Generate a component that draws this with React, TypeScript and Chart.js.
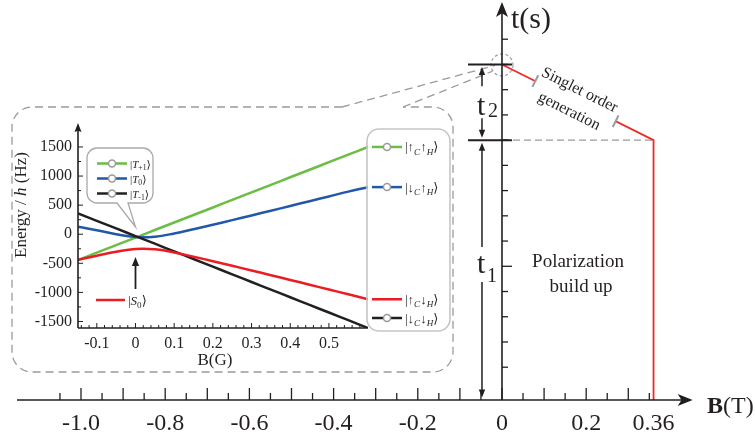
import React, { useEffect, useRef } from "react";
import { Chart, registerables } from "chart.js";
Chart.register(...registerables);

const SERIF = '"Liberation Serif", "Times New Roman", "DejaVu Serif", serif';
const INK = "#231f20";
const GRAY = "#9b9b9b";

// ---------- main chart: field-cycling sequence ----------
const cycleField = [0, 0.36, 0.36]; // B (T)
const cycleTime = [13.3, 10.3, 0]; // t (tick units)
const t1Level = 10.3;
const t2Level = 13.3;
const timeTicks = [1.3, 2.3, 3.3, 4.3, 5.3, 6.3, 7.3, 8.3, 9.3, 10.3, 11.3, 12.3, 13.3, 14.3];
const fieldMajorTicks = [-1.0, -0.9, -0.8, -0.7, -0.6, -0.5, -0.4, -0.3, -0.2, -0.1, 0, 0.1, 0.2, 0.3];
const fieldMinorTicks = [-1.05, -0.95, -0.85, -0.75, -0.65, -0.55, -0.45, -0.35, -0.25, -0.15, -0.05, 0.05, 0.15, 0.25, 0.35];
const fieldLabelValues = [-1.0, -0.8, -0.6, -0.4, -0.2, 0, 0.2, 0.36];
const fieldLabelTexts = ["-1.0", "-0.8", "-0.6", "-0.4", "-0.2", "0", "0.2", "0.36"];

// ---------- inset: energy levels vs B (G) ----------
const insetB = [-0.1486, -0.1, -0.05, 0, 0.05, 0.1, 0.15, 0.2, 0.25, 0.3, 0.35, 0.4, 0.45, 0.5, 0.55, 0.601];
const energyTplus = [-443, -317, -188, -58, 72, 201, 331, 460, 590, 720, 849, 979, 1108, 1238, 1368, 1500];
const energyT0 = [128, 70, 0, -48, -42, 13, 86, 163, 242, 323, 404, 486, 568, 650, 732, 810];
const energyTminus = [359, 231, 100, -32, -163, -295, -426, -558, -689, -821, -952, -1084, -1215, -1346, -1477, -1612];
const energyS0 = [-440, -370, -300, -252, -258, -313, -386, -463, -542, -623, -704, -786, -868, -950, -1032, -1118];
const insetYMajor = [-1500, -1000, -500, 0, 500, 1000, 1500];
const insetYMinor = [-1250, -750, -250, 250, 750, 1250];
const insetXMajor = [-0.1, 0, 0.1, 0.2, 0.3, 0.4, 0.5];
const insetXLabels = ["-0.1", "0", "0.1", "0.2", "0.3", "0.4", "0.5"];
const insetXMinor = [-0.14, -0.12, -0.08, -0.06, -0.04, -0.02, 0.02, 0.04, 0.06, 0.08, 0.12, 0.14, 0.16, 0.18, 0.22, 0.24, 0.26, 0.28, 0.32, 0.34, 0.36, 0.38, 0.42, 0.44, 0.46, 0.48, 0.52, 0.54, 0.56, 0.58];

const GREEN = "#6abd45";
const BLUE = "#2158a8";
const RED = "#ec1c24";
const BLACK = "#231f20";

const tripletNames = ["+1", "0", "-1"];
const tripletColors = [GREEN, BLUE, BLACK];
const spinC = ["↑", "↓", "↑", "↓"];
const spinH = ["↑", "↑", "↓", "↓"];

type Run = { t: string; it?: boolean; bold?: boolean; sub?: boolean };

function setRunFont(ctx: CanvasRenderingContext2D, r: Run, size: number) {
  const s = r.sub ? size * 0.7 : size;
  ctx.font = `${r.it ? "italic " : ""}${r.bold ? "bold " : ""}${s}px ${SERIF}`;
}
function runsWidth(ctx: CanvasRenderingContext2D, runs: Run[], size: number) {
  let w = 0;
  for (const r of runs) {
    setRunFont(ctx, r, size);
    w += ctx.measureText(r.t).width;
  }
  return w;
}
function drawRuns(ctx: CanvasRenderingContext2D, runs: Run[], x: number, y: number, size: number, align = "left") {
  let cx = align === "center" ? x - runsWidth(ctx, runs, size) / 2 : x;
  ctx.textAlign = "left";
  ctx.textBaseline = "alphabetic";
  for (const r of runs) {
    setRunFont(ctx, r, size);
    ctx.fillText(r.t, cx, y + (r.sub ? size * 0.25 : 0));
    cx += ctx.measureText(r.t).width;
  }
}
function seg(ctx: CanvasRenderingContext2D, x1: number, y1: number, x2: number, y2: number) {
  ctx.beginPath();
  ctx.moveTo(x1, y1);
  ctx.lineTo(x2, y2);
  ctx.stroke();
}
function arrowHead(ctx: CanvasRenderingContext2D, x: number, y: number, ang: number, len: number, half: number, notch = 0.25) {
  ctx.save();
  ctx.translate(x, y);
  ctx.rotate(ang);
  ctx.beginPath();
  ctx.moveTo(0, 0);
  ctx.lineTo(-len, -half);
  ctx.lineTo(-len * (1 - notch), 0);
  ctx.lineTo(-len, half);
  ctx.closePath();
  ctx.fill();
  ctx.restore();
}

const mainDecor = {
  id: "mainDecor",
  afterDatasetsDraw(chart: any) {
    const ctx: CanvasRenderingContext2D = chart.ctx;
    const xs = chart.scales.x;
    const ys = chart.scales.y;
    const X = (v: number) => xs.getPixelForValue(v);
    const Y = (v: number) => ys.getPixelForValue(v);
    const x0 = X(0);
    const y0 = Y(0);
    ctx.save();

    // ----- singlet order generation label along red line -----
    const ax = X(cycleField[0]), ay = Y(cycleTime[0]);
    const bx = X(cycleField[1]), by = Y(cycleTime[1]);
    const ang = Math.atan2(by - ay, bx - ax);
    const L = Math.hypot(bx - ax, by - ay);
    ctx.save();
    ctx.translate(ax, ay);
    ctx.rotate(ang);
    ctx.fillStyle = "#fff";
    ctx.fillRect(L * 0.22, -3, L * (0.75 - 0.22), 6);
    ctx.strokeStyle = GRAY;
    ctx.lineWidth = 2;
    for (const f of [0.22, 0.75]) seg(ctx, L * f, -6.5, L * f, 6.5);
    ctx.fillStyle = INK;
    ctx.font = `16px ${SERIF}`;
    ctx.textAlign = "center";
    ctx.textBaseline = "middle";
    ctx.fillText("Singlet order", L * 0.478, -11.5);
    ctx.fillText("generation", L * 0.478, 12);
    ctx.restore();

    // ----- dashed inset frame and zoom lines -----
    ctx.strokeStyle = GRAY;
    ctx.lineWidth = 1.3;
    ctx.setLineDash([8, 5]);
    const fl = 12, ft = 107, fr = 453, fb = 372, rr = 20;
    ctx.beginPath();
    ctx.moveTo(342, ft);
    ctx.lineTo(fl + rr, ft);
    ctx.arcTo(fl, ft, fl, ft + rr, rr);
    ctx.lineTo(fl, fb - rr);
    ctx.arcTo(fl, fb, fl + rr, fb, rr);
    ctx.lineTo(fr - rr, fb);
    ctx.arcTo(fr, fb, fr, fb - rr, rr);
    ctx.lineTo(fr, ft + rr);
    ctx.arcTo(fr, ft, fr - rr, ft, rr);
    ctx.lineTo(403, ft);
    ctx.stroke();
    ctx.beginPath();
    ctx.moveTo(342, ft);
    ctx.lineTo(x0 - 7, Y(t2Level) + 1);
    ctx.moveTo(403, ft);
    ctx.lineTo(x0 - 10, Y(t2Level) + 7);
    ctx.stroke();
    ctx.setLineDash([3, 2.5]);
    ctx.lineWidth = 1.2;
    ctx.beginPath();
    ctx.arc(x0, Y(t2Level) + 0.5, 11, 0, Math.PI * 2);
    ctx.stroke();
    ctx.setLineDash([]);

    // ----- B axis -----
    ctx.strokeStyle = INK;
    ctx.fillStyle = INK;
    ctx.lineWidth = 1.6;
    const xAxisFrom = -1.152, xAxisTip = 0.453;
    seg(ctx, X(xAxisFrom), y0, X(xAxisTip) - 8, y0);
    arrowHead(ctx, X(xAxisTip), y0, 0, 15, 6);
    ctx.lineWidth = 1.3;
    for (const v of fieldMajorTicks) seg(ctx, X(v), y0, X(v), y0 - 12);
    for (const v of fieldMinorTicks) seg(ctx, X(v), y0, X(v), y0 - 7);
    ctx.font = `24px ${SERIF}`;
    ctx.textAlign = "center";
    ctx.textBaseline = "alphabetic";
    fieldLabelValues.forEach((v, i) => ctx.fillText(fieldLabelTexts[i], X(v), 430));
    drawRuns(ctx, [{ t: "B", bold: true }, { t: "(T)" }], 707, 413, 24);

    // ----- t axis -----
    ctx.lineWidth = 1.6;
    const tAxisTip = 15.77;
    seg(ctx, x0, y0, x0, Y(tAxisTip) + 8);
    arrowHead(ctx, x0, Y(tAxisTip), -Math.PI / 2, 15, 6);
    ctx.lineWidth = 1.3;
    timeTicks.forEach((v, i) => seg(ctx, x0, Y(v), x0 + (i === 4 ? 10 : 6), Y(v)));
    drawRuns(ctx, [{ t: "t(s)" }], x0 + 9, 28, 30);

    // ----- t1 / t2 markers -----
    ctx.lineWidth = 2;
    seg(ctx, x0 - 34, Y(t1Level), x0 + 10, Y(t1Level));
    seg(ctx, x0 - 34, Y(t2Level), x0 + 10, Y(t2Level));
    const xa = x0 - 20;
    ctx.lineWidth = 1.5;
    const t2Top = Y(t2Level) + 2.5, t2Bot = Y(t1Level) - 2.5;
    const t2Mid = (t2Top + t2Bot) / 2;
    seg(ctx, xa, t2Top + 4, xa, t2Mid - 16);
    seg(ctx, xa, t2Mid + 16, xa, t2Bot - 4);
    arrowHead(ctx, xa, t2Top, -Math.PI / 2, 8, 3.2, 0);
    arrowHead(ctx, xa, t2Bot, Math.PI / 2, 8, 3.2, 0);
    drawRuns(ctx, [{ t: "t" }], xa - 5, t2Mid + 13, 30);
    drawRuns(ctx, [{ t: "2" }], xa + 6, t2Mid + 15, 20);
    const t1Top = Y(t1Level) + 2.5, t1Bot = y0 - 2.5;
    seg(ctx, xa, t1Top + 4, xa, 247);
    seg(ctx, xa, 282, xa, t1Bot - 4);
    arrowHead(ctx, xa, t1Top, -Math.PI / 2, 8, 3.2, 0);
    arrowHead(ctx, xa, t1Bot, Math.PI / 2, 8, 3.2, 0);
    drawRuns(ctx, [{ t: "t" }], xa - 5, 273, 30);
    drawRuns(ctx, [{ t: "1" }], xa + 5, 282, 20);

    // ----- polarization text -----
    ctx.fillStyle = INK;
    ctx.font = `19px ${SERIF}`;
    ctx.textAlign = "center";
    ctx.fillText("Polarization", 578, 267);
    ctx.fillText("build up", 581, 292);
    ctx.restore();
  },
};

const insetDecor = {
  id: "insetDecor",
  afterDatasetsDraw(chart: any) {
    const ctx: CanvasRenderingContext2D = chart.ctx;
    const xs = chart.scales.x;
    const ys = chart.scales.y;
    const X = (v: number) => xs.getPixelForValue(v);
    const Y = (v: number) => ys.getPixelForValue(v);
    const py = (y: number) => y - 100; // page y -> canvas y
    const left = xs.left, right = xs.right, top = ys.top, bottom = ys.bottom;
    ctx.save();
    ctx.strokeStyle = INK;
    ctx.fillStyle = INK;

    // axes
    ctx.lineWidth = 1.6;
    seg(ctx, left, bottom, left, top + 6);
    arrowHead(ctx, left, top, -Math.PI / 2, 9, 3.5, 0.15);
    seg(ctx, left, bottom, right, bottom);
    ctx.lineWidth = 1;
    for (const v of insetYMajor) seg(ctx, left, Y(v), left + 5, Y(v));
    for (const v of insetYMinor) seg(ctx, left, Y(v), left + 3, Y(v));
    for (const v of insetXMajor) seg(ctx, X(v), bottom, X(v), bottom - 5);
    for (const v of insetXMinor) seg(ctx, X(v), bottom, X(v), bottom - 3);
    ctx.font = `16px ${SERIF}`;
    ctx.textAlign = "right";
    ctx.textBaseline = "middle";
    for (const v of insetYMajor) ctx.fillText(String(v), left - 6, Y(v));
    ctx.textAlign = "center";
    ctx.textBaseline = "alphabetic";
    insetXMajor.forEach((v, i) => ctx.fillText(insetXLabels[i], X(v), bottom + 20));
    ctx.font = `17px ${SERIF}`;
    ctx.fillText("B(G)", X(0.2) + 2, py(365));
    ctx.save();
    ctx.translate(21, py(205));
    ctx.rotate(-Math.PI / 2);
    drawRuns(ctx, [{ t: "Energy / " }, { t: "h", it: true }, { t: " (Hz)" }], 0, 5, 17, "center");
    ctx.restore();

    // speech bubble (triplet legend)
    const bx0 = 87, bx1 = 153, by0 = py(148), by1 = py(203), r = 10;
    ctx.beginPath();
    ctx.moveTo(bx0 + r, by0);
    ctx.lineTo(bx1 - r, by0);
    ctx.arcTo(bx1, by0, bx1, by0 + r, r);
    ctx.lineTo(bx1, by1 - r);
    ctx.arcTo(bx1, by1, bx1 - r, by1, r);
    ctx.lineTo(128, by1);
    ctx.lineTo(X(0), py(227));
    ctx.lineTo(117, by1);
    ctx.lineTo(bx0 + r, by1);
    ctx.arcTo(bx0, by1, bx0, by1 - r, r);
    ctx.lineTo(bx0, by0 + r);
    ctx.arcTo(bx0, by0, bx0 + r, by0, r);
    ctx.closePath();
    ctx.fillStyle = "#fff";
    ctx.fill();
    ctx.strokeStyle = "#a9a9a9";
    ctx.lineWidth = 1.3;
    ctx.stroke();
    const markerRow = (color: string, x1: number, x2: number, y: number, marker: boolean) => {
      ctx.strokeStyle = color;
      ctx.lineWidth = 2.5;
      seg(ctx, x1, y, x2, y);
      if (marker) {
        ctx.beginPath();
        ctx.arc((x1 + x2) / 2, y, 3.5, 0, Math.PI * 2);
        ctx.fillStyle = "#fff";
        ctx.fill();
        ctx.strokeStyle = "#9a9a9a";
        ctx.lineWidth = 1.5;
        ctx.stroke();
      }
    };
    tripletNames.forEach((nm, i) => {
      const y = py(163.5 + i * 15);
      markerRow(tripletColors[i], 97, 127, y, true);
      ctx.fillStyle = INK;
      drawRuns(ctx, [{ t: "|" }, { t: "T", it: true }, { t: nm, sub: true }, { t: "⟩" }], 130, y + 4, 11);
    });

    // S0 label and arrow
    markerRow(RED, 96, 125, py(300), false);
    ctx.fillStyle = INK;
    drawRuns(ctx, [{ t: "|" }, { t: "S", it: true }, { t: "0", sub: true }, { t: "⟩" }], 128, py(300) + 4.5, 13);
    ctx.strokeStyle = INK;
    ctx.lineWidth = 1.8;
    seg(ctx, X(0), py(289), X(0), py(264));
    arrowHead(ctx, X(0), py(257), -Math.PI / 2, 9, 3.6, 0);

    // right legend box
    const lx0 = 367, lx1 = 450, ly0 = py(129), ly1 = py(331), lr = 12;
    ctx.beginPath();
    ctx.moveTo(lx0 + lr, ly0);
    ctx.arcTo(lx1, ly0, lx1, ly1, lr);
    ctx.arcTo(lx1, ly1, lx0, ly1, lr);
    ctx.arcTo(lx0, ly1, lx0, ly0, lr);
    ctx.arcTo(lx0, ly0, lx1, ly0, lr);
    ctx.closePath();
    ctx.strokeStyle = "#c6c6c6";
    ctx.lineWidth = 1.6;
    ctx.stroke();
    const ends = [energyTplus, energyT0, energyS0, energyTminus].map((a) => a[a.length - 1]);
    const rowColors = [GREEN, BLUE, RED, BLACK];
    ends.forEach((e, i) => {
      const y = Math.min(Y(e), ly1 - 13);
      markerRow(rowColors[i], 372, 402, y, i !== 2);
      ctx.fillStyle = INK;
      drawRuns(
        ctx,
        [{ t: "|" + spinC[i] }, { t: "C", it: true, sub: true }, { t: spinH[i] }, { t: "H", it: true, sub: true }, { t: "⟩" }],
        405,
        y + 4.5,
        13
      );
    });
    ctx.restore();
  },
};

export default function App() {
  const mainRef = useRef<HTMLCanvasElement>(null);
  const insetRef = useRef<HTMLCanvasElement>(null);

  useEffect(() => {
    const main = new Chart(mainRef.current as HTMLCanvasElement, {
      type: "line",
      data: {
        datasets: [
          {
            data: cycleField.map((b, i) => ({ x: b, y: cycleTime[i] })),
            borderColor: "#ee2a2a",
            borderWidth: 1.8,
            pointRadius: 0,
            tension: 0,
          },
          {
            data: [
              { x: 0, y: t1Level },
              { x: cycleField[1], y: t1Level },
            ],
            borderColor: GRAY,
            borderWidth: 1.4,
            borderDash: [7, 4],
            pointRadius: 0,
          },
        ],
      },
      options: {
        animation: false,
        responsive: false,
        devicePixelRatio: 1,
        events: [],
        layout: { padding: 0 },
        plugins: { legend: { display: false }, tooltip: { enabled: false } },
        scales: {
          x: { type: "linear", min: -1.1924, max: 0.601, display: false },
          y: { type: "linear", min: -1.704, max: 15.854, display: false },
        },
      },
      plugins: [mainDecor],
    } as any);

    const mk = (vals: number[], color: string) => ({
      data: insetB.map((b, i) => ({ x: b, y: vals[i] })),
      borderColor: color,
      borderWidth: 2.5,
      pointRadius: 0,
      tension: 0.4,
    });
    const inset = new Chart(insetRef.current as HTMLCanvasElement, {
      type: "line",
      data: {
        datasets: [mk(energyS0, RED), mk(energyTminus, BLACK), mk(energyT0, BLUE), mk(energyTplus, GREEN)],
      },
      options: {
        animation: false,
        responsive: false,
        devicePixelRatio: 1,
        events: [],
        layout: { padding: { left: 78, right: 92, top: 23, bottom: 52 } },
        plugins: { legend: { display: false }, tooltip: { enabled: false } },
        scales: {
          x: { type: "linear", min: -0.1486, max: 0.601, display: false },
          y: { type: "linear", min: -1612, max: 1912, display: false },
        },
      },
      plugins: [insetDecor],
    } as any);

    return () => {
      main.destroy();
      inset.destroy();
    };
  }, []);

  return (
    <div style={{ position: "fixed", left: 0, top: 0, width: 755, height: 443, background: "#fff", overflow: "hidden" }}>
      <canvas ref={mainRef} width={755} height={443} style={{ position: "absolute", left: 0, top: 0, width: 755, height: 443 }} />
      <canvas ref={insetRef} width={460} height={280} style={{ position: "absolute", left: 0, top: 100, width: 460, height: 280 }} />
    </div>
  );
}
